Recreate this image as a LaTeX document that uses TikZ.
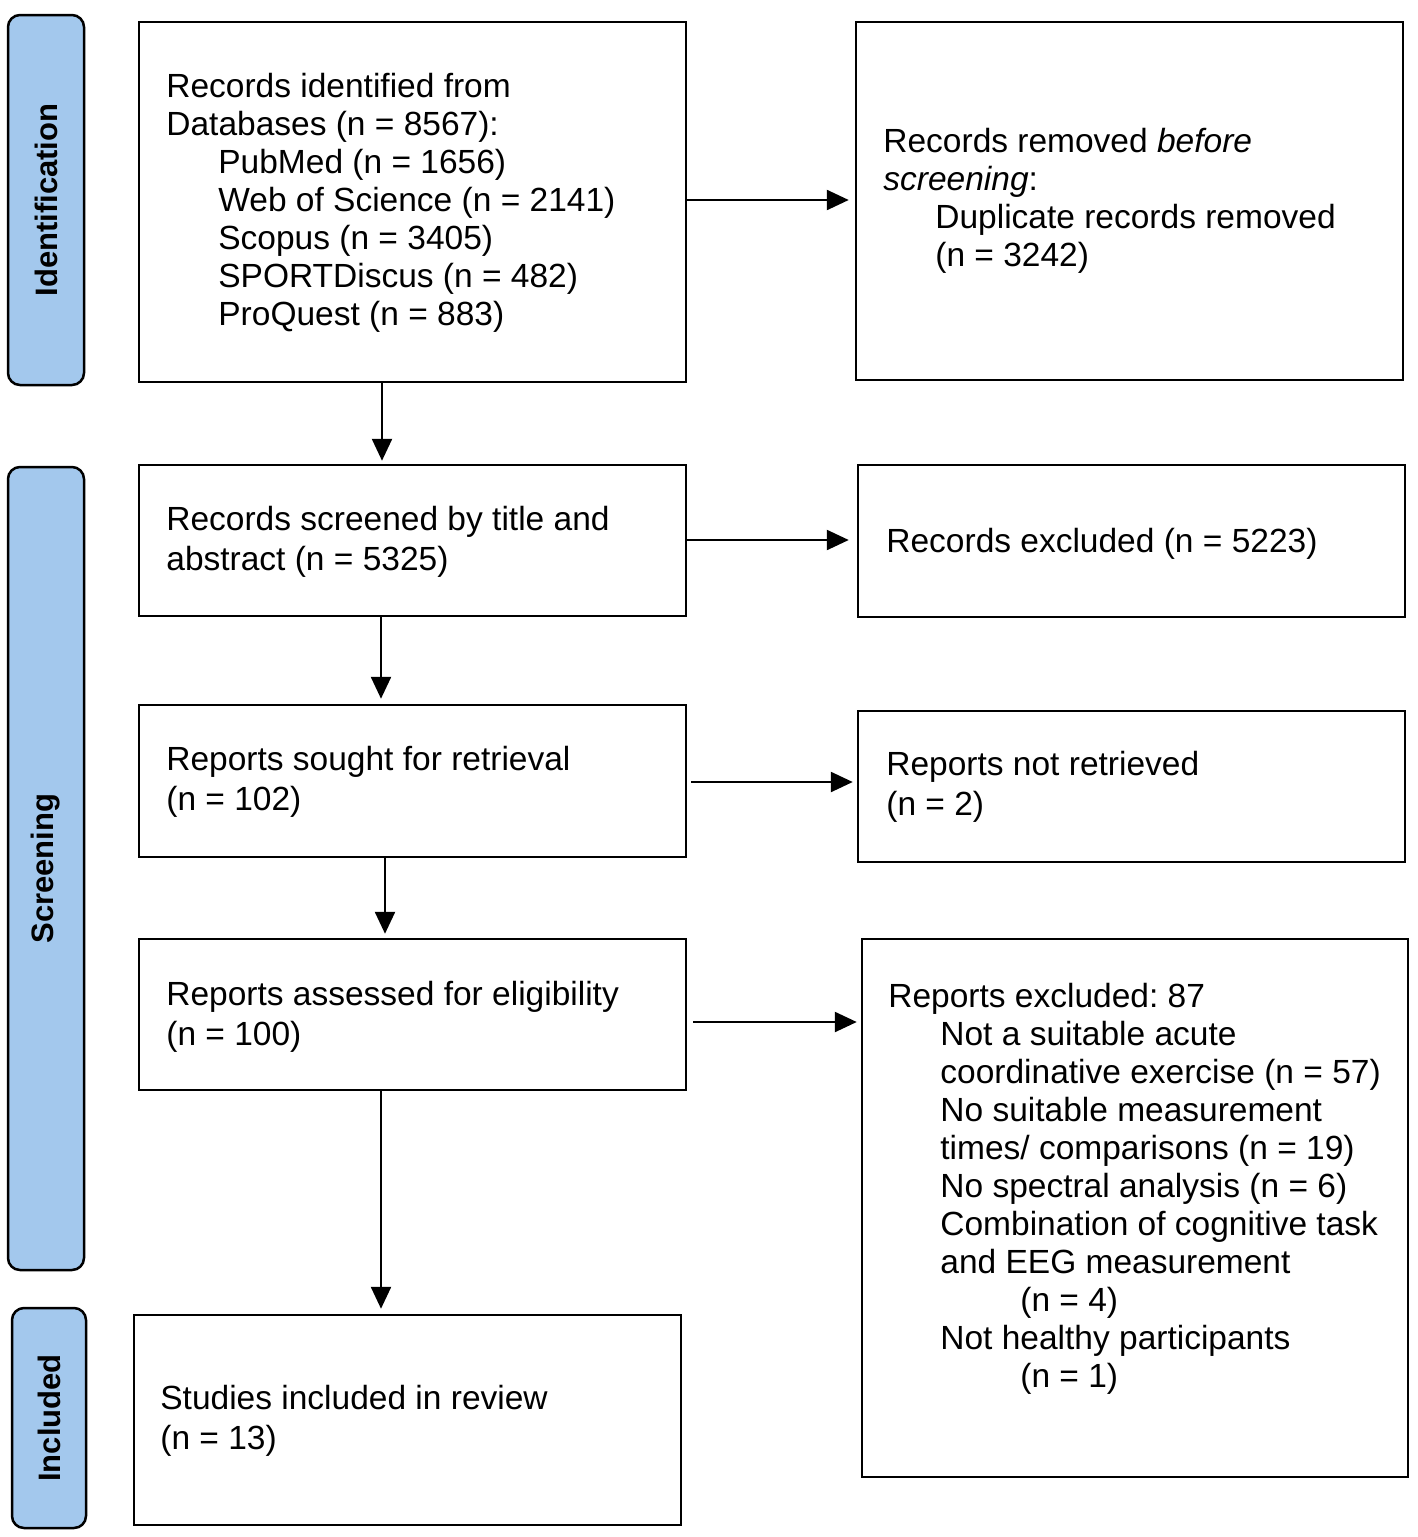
\documentclass[tikz,border=0pt]{standalone}
\usepackage{fontspec}
\setmainfont{Liberation Sans}
\usetikzlibrary{fit,arrows.meta}
\definecolor{phaseblue}{RGB}{163,200,237}
\frenchspacing
\begin{document}
\begin{tikzpicture}[x=0.5pt,y=-0.5pt,
  box/.style={draw=black, line width=1.25pt, inner sep=0pt},
  phase/.style={draw=black, line width=1.25pt, inner sep=0pt, fill=phaseblue, rounded corners=6pt},
  phasetxt/.style={rotate=90, inner sep=0pt, font=\fontsize{15.5}{18}\selectfont\bfseries},
  txt/.style={anchor=north west, inner sep=0pt, align=left, font=\fontsize{16.75}{19}\selectfont},
  txtb/.style={anchor=north west, inner sep=0pt, align=left, font=\fontsize{16.75}{20}\selectfont},
  arr/.style={-{Triangle[length=11pt,width=10pt]}, line width=1.25pt}]
\useasboundingbox (0,0) rectangle (1418,1537);
% phase labels
\node[phase, fit={(8,15)(84,385)}] (pid) {};
\node[phasetxt] (pidt) at (pid.center) {Identification};
\node[phase, fit={(8,467)(84,1270)}] (psc) {};
\node[phasetxt] (psct) at (psc.center) {Screening};
\node[phase, fit={(12,1308)(86,1528)}] (pin) {};
\node[phasetxt] (pint) at (pin.center) {Included};
% boxes
\node[box, fit={(139,22)(686,382)}] (b1) {};
\node[box, fit={(856,22)(1403,380)}] (b2) {};
\node[box, fit={(139,465)(686,616)}] (b3) {};
\node[box, fit={(858,465)(1405,617)}] (b4) {};
\node[box, fit={(139,705)(686,857)}] (b5) {};
\node[box, fit={(858,711)(1405,862)}] (b6) {};
\node[box, fit={(139,939)(686,1090)}] (b7) {};
\node[box, fit={(862,939)(1408,1477)}] (b8) {};
\node[box, fit={(134,1315)(681,1525)}] (b9) {};
% texts
\node[txt] (t1) at (166,73) {Records identified from\\Databases (n = 8567):\\
\hspace*{26pt}PubMed (n = 1656)\\\hspace*{26pt}Web of Science (n = 2141)\\
\hspace*{26pt}Scopus (n = 3405)\\\hspace*{26pt}SPORTDiscus (n = 482)\\
\hspace*{26pt}ProQuest (n = 883)};
\node[txt] (t2) at (883,128) {Records removed \textit{before}\\\textit{screening}:\\
\hspace*{26pt}Duplicate records removed\\\hspace*{26pt}(n = 3242)};
\node[txtb] (t3) at (166,506) {Records screened by title and\\abstract (n = 5325)};
\node[txtb] (t4) at (886,528) {Records excluded (n = 5223)};
\node[txtb] (t5) at (166,746) {Reports sought for retrieval\\(n = 102)};
\node[txtb] (t6) at (886,751) {Reports not retrieved\\(n = 2)};
\node[txtb] (t7) at (166,981) {Reports assessed for eligibility\\(n = 100)};
\node[txt] (t8) at (888,983) {Reports excluded: 87\\
\hspace*{26pt}Not a suitable acute\\
\hspace*{26pt}coordinative exercise (n = 57)\\
\hspace*{26pt}No suitable measurement\\
\hspace*{26pt}times/ comparisons (n = 19)\\
\hspace*{26pt}No spectral analysis (n = 6)\\
\hspace*{26pt}Combination of cognitive task\\
\hspace*{26pt}and EEG measurement\\
\hspace*{66pt}(n = 4)\\
\hspace*{26pt}Not healthy participants\\
\hspace*{66pt}(n = 1)};
\node[txtb] (t9) at (160,1385) {Studies included in review\\(n = 13)};
% connector guides
\coordinate (r1) at (0,200);
\coordinate (r2) at (0,540);
\coordinate (r3) at (0,782);
\coordinate (r4) at (0,1022);
\coordinate (c1) at (382,0);
\coordinate (c2) at (381,0);
\coordinate (c3) at (385,0);
% connectors
\draw[arr, shorten >=3pt] (b1.east |- r1) -- (b2.west |- r1);
\draw[arr, shorten >=4pt] (b3.east |- r2) -- (b4.west |- r2);
\draw[arr, shorten <=2pt, shorten >=2pt] (b5.east |- r3) -- (b6.west |- r3);
\draw[arr, shorten <=3pt, shorten >=2pt] (b7.east |- r4) -- (b8.west |- r4);
\draw[arr, shorten >=1.5pt] (b1.south -| c1) -- (b3.north -| c1);
\draw[arr, shorten >=2.5pt] (b3.south -| c2) -- (b5.north -| c2);
\draw[arr, shorten >=2pt] (b5.south -| c3) -- (b7.north -| c3);
\draw[arr, shorten >=2.5pt] (b7.south -| c2) -- (b9.north -| c2);
\end{tikzpicture}
\end{document}
